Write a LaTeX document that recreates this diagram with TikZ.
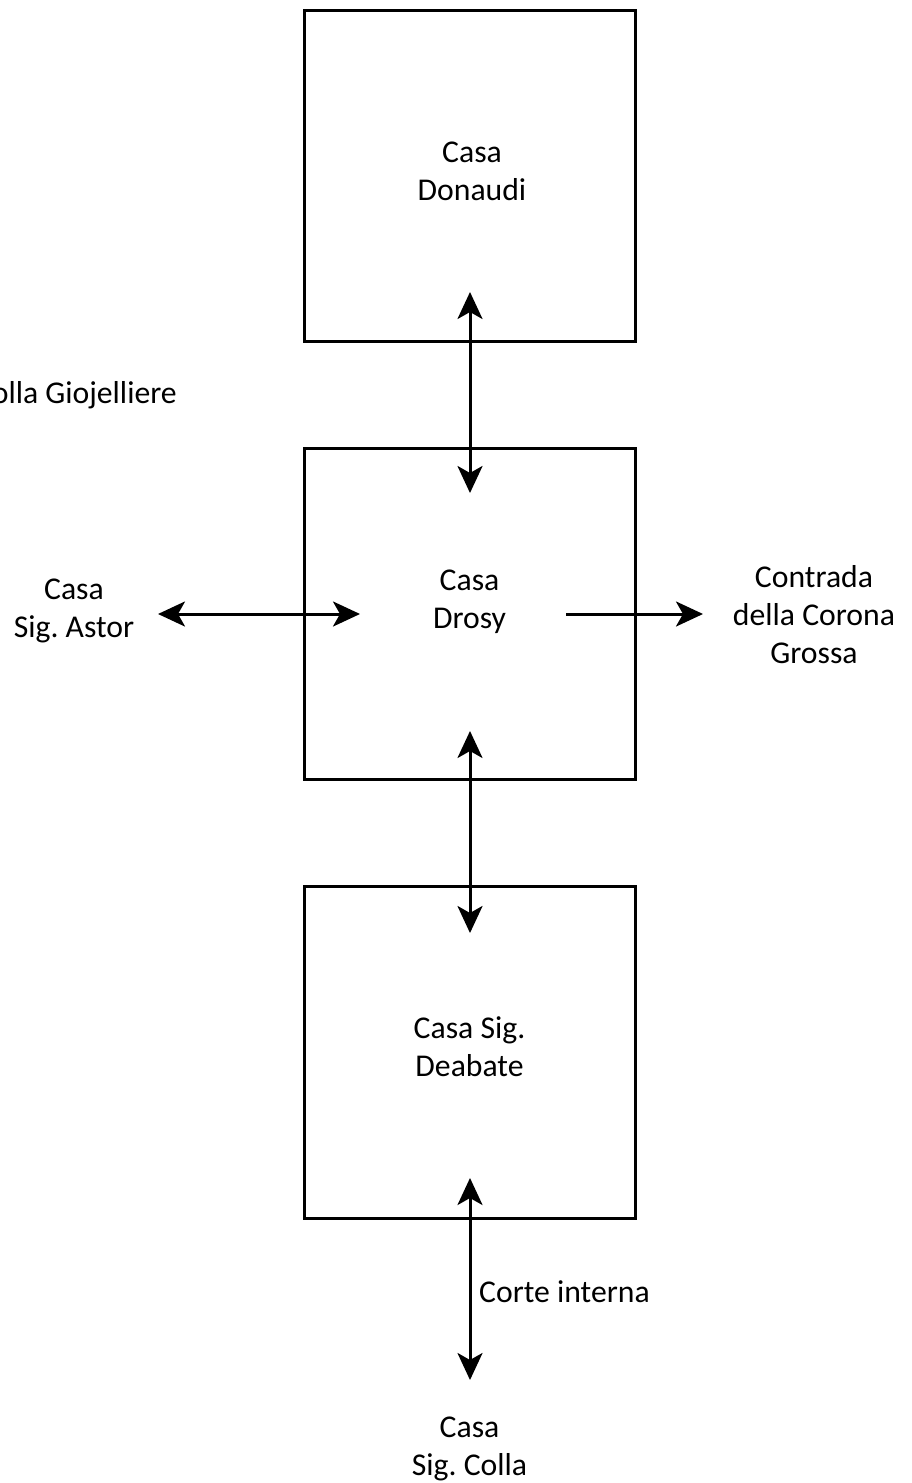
\documentclass[tikz,border=0pt]{standalone}
\usepackage{fontspec}
\setmainfont{Carlito}
\usetikzlibrary{arrows.meta}
\frenchspacing
\begin{document}
\begin{tikzpicture}[x=1pt,y=-1pt,
  house/.style={draw=black, line width=3pt, minimum width=331pt, minimum height=331pt, inner sep=0pt},
  lbl/.style={align=center, inner sep=0pt, font=\fontsize{31.7}{38}\selectfont},
  tipA/.style={},
  link/.style={line width=3pt, {Stealth[length=27pt,width=25pt,inset=7pt]}-{Stealth[length=27pt,width=25pt,inset=7pt]}},
  onelink/.style={line width=3pt, -{Stealth[length=27pt,width=25pt,inset=7pt]}}]
\fill[white] (0,0) rectangle (911,1483);
\useasboundingbox (0,0) rectangle (911,1483);
% boxes
\node[house] (donaudi) at (469.5,176) {};
\node[house] (drosy) at (469.5,614) {};
\node[house, minimum height=332pt] (deabate) at (469.5,1052.5) {};
% labels
\node[lbl, anchor=base] (tdonaudi) at (472,200) {Casa\\Donaudi};
\node[lbl, anchor=base east] (tgioj) at (177,403) {olla Giojelliere};
\node[lbl, anchor=base] (tastor) at (74,637) {Casa\\Sig. Astor};
\node[lbl, anchor=base] (tdrosy) at (469.5,628) {Casa\\Drosy};
\node[lbl, anchor=base] (tcorona) at (814,663) {Contrada\\della Corona\\Grossa};
\node[lbl, anchor=base] (tdeabate) at (469.5,1076) {Casa Sig.\\Deabate};
\node[lbl, anchor=base west] (tcorte) at (479,1302) {Corte interna};
\node[lbl, anchor=base] (tcolla) at (469.5,1475) {Casa\\Sig. Colla};
% connector end points
\coordinate (a1) at (470,292);
\coordinate (a2) at (470,493);
\coordinate (b1) at (470,731);
\coordinate (b2) at (470,933);
\coordinate (c1) at (470,1178);
\coordinate (c2) at (470,1380);
\coordinate (l1) at (158,614);
\coordinate (l2) at (360,614);
\coordinate (r1) at (566,614);
\coordinate (r2) at (703,614);
% connectors
\draw[link] (a1) -- (a2);
\draw[link] (b1) -- (b2);
\draw[link] (c1) -- (c2);
\draw[link] (l1) -- (l2);
\draw[onelink] (r1) -- (r2);
\end{tikzpicture}
\end{document}
